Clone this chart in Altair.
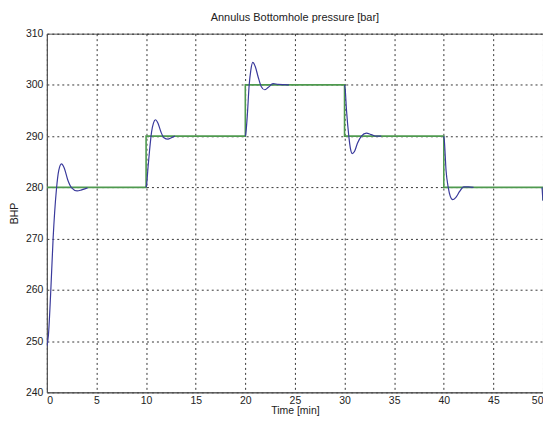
import altair as alt
import pandas as pd

# Setpoint (green step line)
sp_t = [0, 10, 10, 20, 20, 30, 30, 40, 40, 50, 50]
sp_v = [280, 280, 290, 290, 300, 300, 290, 290, 280, 280, 277.5]

# Measured BHP response (blue), by transient segment
seg1_t = [0, 0.15, 0.4, 0.63, 0.96, 1.2, 1.47, 1.75, 2.1, 2.5, 3.05, 3.5, 4.1]
seg1_v = [249, 251, 260, 270, 279.5, 283.3, 284.6, 283.8, 281.5, 279.9, 279.3, 279.5, 279.9]
seg2_t = [10.0, 10.05, 10.2, 10.35, 10.55, 10.75, 10.95, 11.2, 11.5, 11.8, 12.2, 12.55, 12.9]
seg2_v = [280, 280.5, 284, 287.2, 290.8, 292.6, 293.2, 292.5, 290.8, 289.7, 289.4, 289.7, 290.0]
seg3_t = [20.0, 20.05, 20.2, 20.39, 20.55, 20.75, 21.0, 21.3, 21.6, 21.95, 22.3, 22.8, 23.3, 24.4]
seg3_v = [290, 290.5, 294, 300, 302.8, 304.4, 303.6, 301.5, 299.7, 299.05, 299.5, 300.25, 300.1, 300.0]
seg4_t = [30.0, 30.05, 30.2, 30.43, 30.6, 30.76, 31.0, 31.3, 31.7, 32.2, 32.7, 33.2, 33.7]
seg4_v = [300, 299.5, 295, 290, 287.5, 286.6, 287.0, 288.6, 290.0, 290.6, 290.3, 290.0, 290.0]
seg5_t = [40.0, 40.05, 40.23, 40.45, 40.65, 40.9, 41.2, 41.6, 42.0, 42.5, 43.0]
seg5_v = [290, 289.3, 283.3, 280, 278.3, 277.6, 278.0, 279.2, 280.1, 280.1, 280.0]
seg6_t = [49.9, 50.0]
seg6_v = [280, 277.4]

x_ticks = [0, 5, 10, 15, 20, 25, 30, 35, 40, 45, 50]
y_ticks = [240, 250, 260, 270, 280, 290, 300, 310]

sp_df = pd.DataFrame({"t": sp_t, "v": sp_v, "o": list(range(len(sp_t)))})
rows = []
for i, (ts, vs) in enumerate([(seg1_t, seg1_v), (seg2_t, seg2_v), (seg3_t, seg3_v),
                              (seg4_t, seg4_v), (seg5_t, seg5_v), (seg6_t, seg6_v)]):
    for j, (t, v) in enumerate(zip(ts, vs)):
        rows.append({"t": t, "v": v, "seg": i, "o": j})
bhp_df = pd.DataFrame(rows)

xs = alt.Scale(domain=[0, 50], nice=False, zero=False)
ys = alt.Scale(domain=[240, 310], nice=False, zero=False)

xaxis = alt.Axis(values=x_ticks, title="Time [min]", grid=True, ticks=False,
                 labelPadding=3, titlePadding=0)
yaxis = alt.Axis(values=y_ticks, title="BHP", grid=True, ticks=False,
                 labelPadding=4, titlePadding=6)

green = alt.Chart(sp_df).mark_line(color="#4f9a4f", strokeWidth=1.6, clip=True).encode(
    x=alt.X("t:Q", scale=xs, axis=xaxis),
    y=alt.Y("v:Q", scale=ys, axis=yaxis),
    order="o:Q",
)

blue = alt.Chart(bhp_df).mark_line(color="#3a3a9c", strokeWidth=1.2, clip=True,
                                   interpolate="monotone").encode(
    x=alt.X("t:Q", scale=xs),
    y=alt.Y("v:Q", scale=ys),
    detail="seg:N",
    order="o:Q",
)

chart = (green + blue).properties(
    width=498,
    height=360,
    background="white",
    autosize=alt.AutoSizeParams(type="none"),
    padding={"left": 39, "top": 25, "right": 0, "bottom": 23},
    title=alt.TitleParams("Annulus Bottomhole pressure [bar]", fontSize=11,
                          font="Liberation Sans", fontWeight="normal", color="#222",
                          offset=6),
).configure_view(
    stroke="#555", strokeWidth=1
).configure_axis(
    labelFont="Liberation Sans", labelFontSize=10.5, labelColor="#222",
    titleFont="Liberation Sans", titleFontSize=10.5, titleFontWeight="normal", titleColor="#222",
    gridColor="#222", gridDash=[2, 3], gridOpacity=0.9, gridWidth=1,
    domainColor="#555",
)

chart.save("out.html", embed_options={"renderer": "svg", "actions": False})
